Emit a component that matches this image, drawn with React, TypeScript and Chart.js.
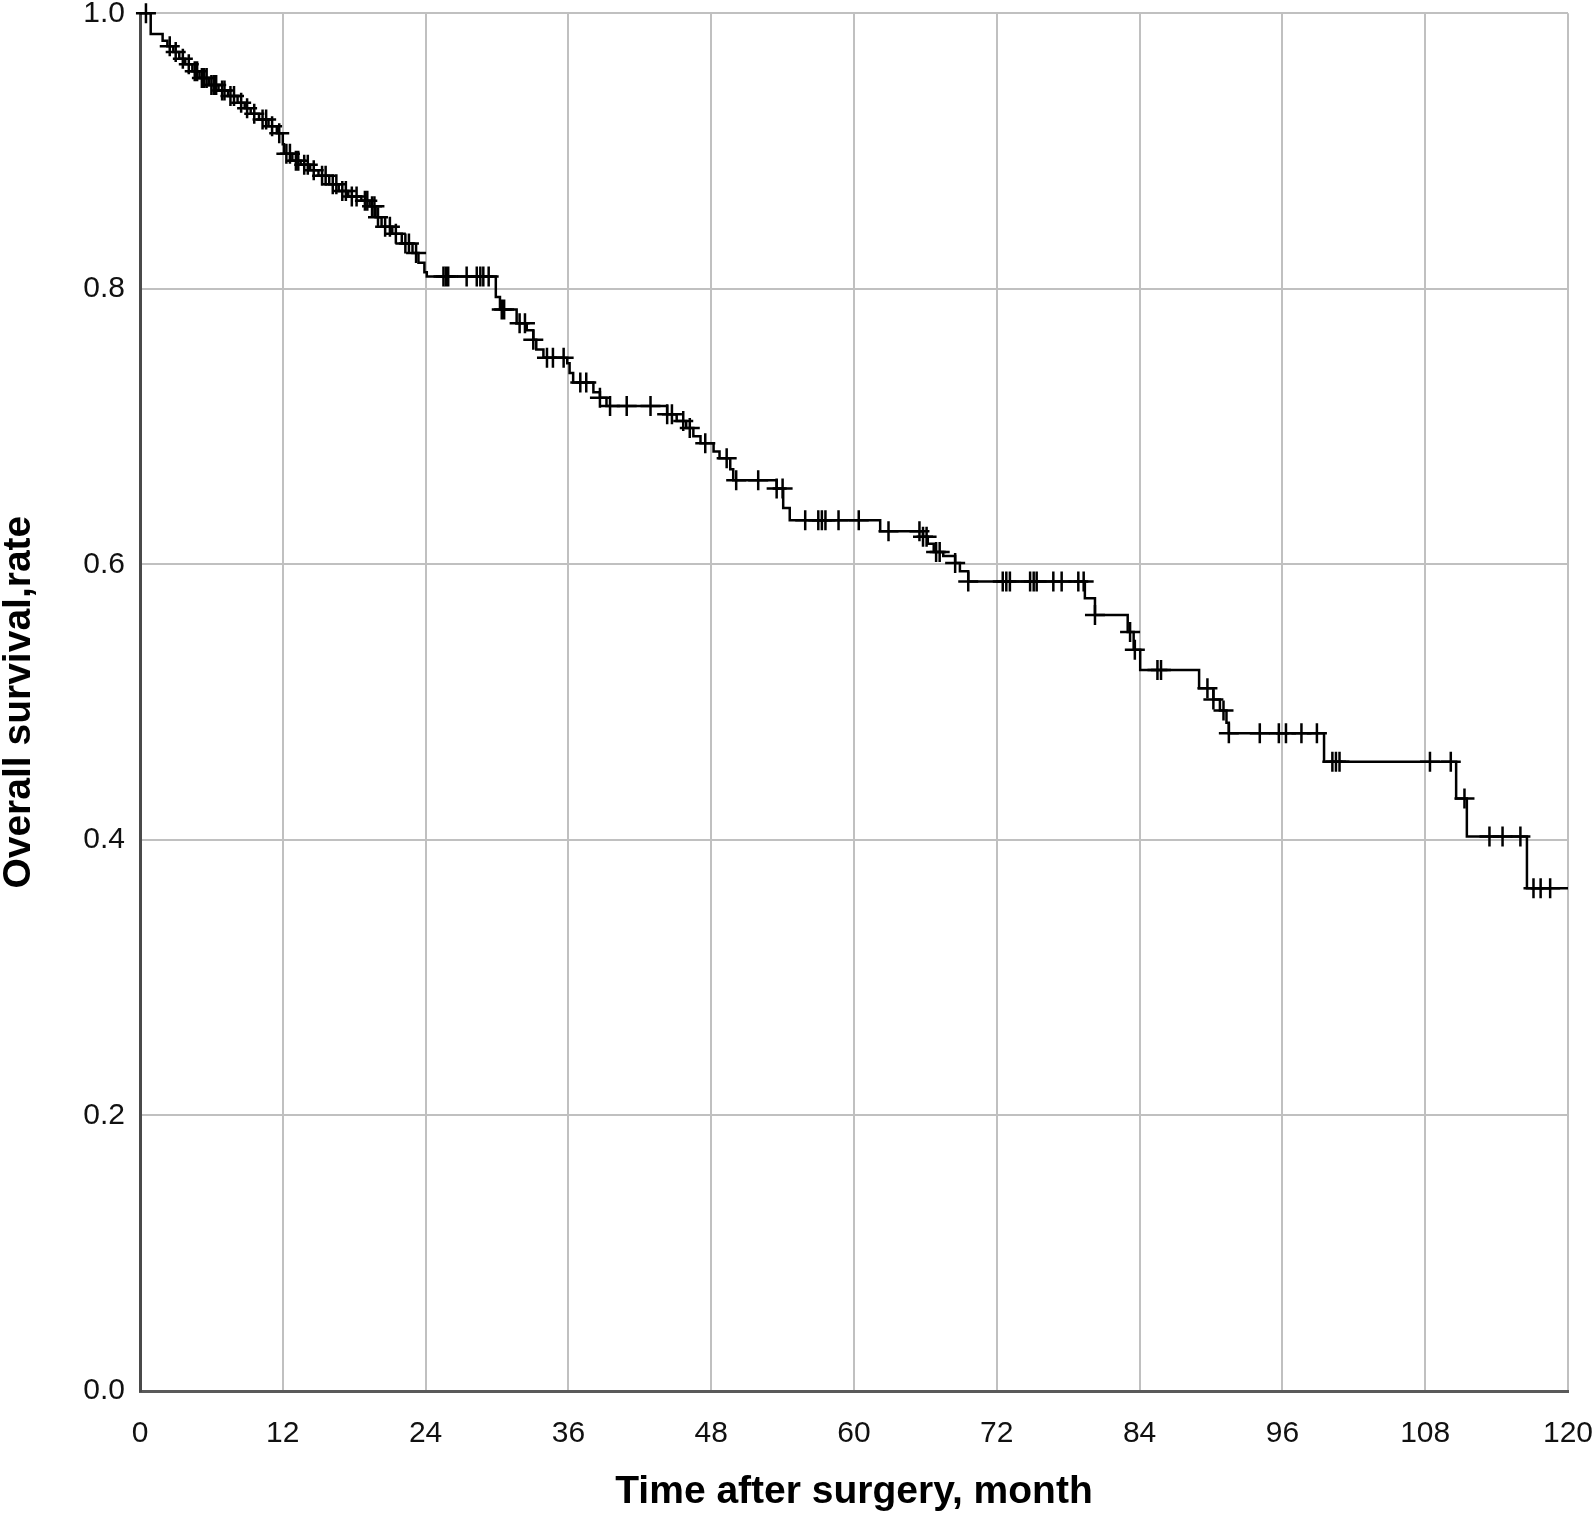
import React, { useEffect, useRef } from "react";
import { Chart, registerables } from "chart.js";

Chart.register(...registerables);

// Kaplan-Meier step function: event times (months) and survival after each step
const stepTimes = [
  0, 0.9, 1.9, 2.3, 2.8, 3.3, 3.8, 4.4, 5.0, 5.8, 6.6, 7.4, 8.2, 8.8, 9.3, 10.0, 10.8, 11.5,
  12.0, 12.1, 12.8, 13.5, 14.3, 15.0, 15.9, 16.7, 17.5, 18.6, 19.3, 19.8, 20.3, 21.2, 22.0,
  22.9, 23.4, 23.9, 24.1, 29.9, 30.25, 31.65, 32.5, 33.05, 33.3, 33.9, 35.9, 36.1, 36.4, 38.1,
  38.65, 39.2, 44.3, 45.1, 45.9, 46.5, 47.1, 48.2, 48.7, 49.6, 49.85, 53.5, 54.05, 54.6, 62.2,
  65.8, 66.2, 66.7, 67.5, 68.5, 68.9, 69.6, 79.4, 80.25, 83.0, 83.5, 84.05, 89.0, 90.2, 90.75,
  91.3, 91.5, 99.5, 110.6, 111.5, 116.55, 120,
];
const stepSurvival = [
  1.0, 0.985, 0.98, 0.976, 0.972, 0.967, 0.963, 0.958, 0.953, 0.948, 0.944, 0.94, 0.935, 0.931,
  0.927, 0.923, 0.918, 0.913, 0.905, 0.898, 0.893, 0.89, 0.886, 0.882, 0.876, 0.871, 0.867,
  0.864, 0.86, 0.852, 0.845, 0.84, 0.833, 0.826, 0.819, 0.812, 0.809, 0.794, 0.785, 0.775,
  0.77, 0.763, 0.756, 0.75, 0.746, 0.739, 0.732, 0.725, 0.721, 0.715, 0.709, 0.704, 0.699,
  0.693, 0.688, 0.682, 0.677, 0.669, 0.661, 0.655, 0.641, 0.632, 0.624, 0.62, 0.615, 0.609,
  0.606, 0.601, 0.595, 0.5875, 0.5754, 0.5633, 0.551, 0.538, 0.5234, 0.51, 0.502, 0.494,
  0.485, 0.4774, 0.4568, 0.43, 0.4024, 0.365, 0.365,
];

// Censored observation times (months)
const censorTimes = [
  0.5, 2.5, 3.0, 3.6, 4.1, 4.6, 4.8, 5.2, 5.4, 5.6, 6.0, 6.2, 6.4, 6.9, 7.1, 7.6, 7.9, 8.5, 9.0,
  9.6, 10.3, 10.6, 11.1, 11.7, 12.3, 12.6, 13.1, 13.3, 13.8, 14.1, 14.6, 15.3, 15.6, 16.2, 16.5,
  17.0, 17.3, 17.8, 18.2, 18.9, 19.1, 19.5, 19.7, 20.0, 20.6, 21.0, 21.5, 22.3, 22.6, 23.2,
  25.5, 25.7, 25.9, 27.45, 28.3, 28.6, 28.85, 29.3, 30.4, 30.6, 31.9, 32.35, 33.05, 34.2, 34.7,
  35.6, 37.0, 37.5, 38.65, 39.5, 40.9, 42.9, 44.3, 44.7, 45.65, 46.2, 47.5, 49.3, 50.1, 51.95,
  53.5, 54.0, 55.9, 57.0, 57.3, 57.6, 58.7, 60.4, 62.9, 65.5, 65.8, 66.1, 66.9, 67.2, 68.5,
  69.6, 72.5, 72.8, 73.1, 74.8, 75.1, 75.35, 76.75, 77.45, 78.85, 79.3, 80.25, 83.2, 83.6,
  85.5, 85.8, 89.7, 90.2, 91.05, 91.5, 94.1, 95.7, 96.3, 97.6, 98.9, 100.2, 100.5, 100.8,
  108.4, 110.15, 111.3, 113.4, 114.5, 116.0, 117.1, 117.7, 118.5,
];

const xTickStep = 12;
const xMax = 120;
const yTickStep = 0.2;

const xTitle = "Time after surgery, month";
const yTitle = "Overall survival,rate";

function survivalAt(t: number): number {
  let v = stepSurvival[0];
  for (let i = 0; i < stepTimes.length; i++) {
    if (stepTimes[i] <= t + 1e-9) v = stepSurvival[i];
    else break;
  }
  return v;
}

const FONT = "'Liberation Sans', Arial, sans-serif";

export default function App() {
  const ref = useRef<HTMLCanvasElement>(null);

  useEffect(() => {
    if (!ref.current) return;
    const curve = stepTimes.map((t, i) => ({ x: t, y: stepSurvival[i] }));
    const censors = censorTimes.map((t) => ({ x: t, y: survivalAt(t) }));

    const chart = new Chart(ref.current, {
      type: "scatter",
      data: {
        datasets: [
          {
            data: curve,
            showLine: true,
            stepped: "before",
            borderColor: "#000",
            borderWidth: 2.5,
            pointRadius: 0,
            fill: false,
            clip: false,
          } as any,
          {
            data: censors,
            showLine: false,
            pointStyle: "cross",
            pointRadius: 10,
            pointBorderWidth: 2.5,
            pointBorderColor: "#000",
            pointBackgroundColor: "#000",
            clip: false,
          } as any,
        ],
      },
      options: {
        responsive: false,
        animation: false,
        events: [],
        layout: { padding: 0 },
        plugins: {
          legend: { display: false },
          tooltip: { enabled: false },
        },
        scales: {
          x: {
            type: "linear",
            min: 0,
            max: xMax,
            afterFit: (scale: any) => {
              scale.height = 125;
              scale.paddingLeft = 0;
              scale.paddingRight = 26;
            },
            ticks: {
              stepSize: xTickStep,
              autoSkip: false,
              maxRotation: 0,
              padding: 25,
              color: "#111",
              font: { family: FONT, size: 30, lineHeight: 1.2 },
            },
            grid: {
              color: "rgb(192,192,192)",
              lineWidth: 2,
              drawTicks: false,
            },
            border: { color: "#5a5a5a", width: 3 },
            title: {
              display: true,
              text: xTitle,
              color: "#000",
              font: { family: FONT, size: 39, weight: "bold", lineHeight: 1.0 },
              padding: { top: 0, bottom: 4 },
            },
          },
          y: {
            type: "linear",
            min: 0,
            max: 1,
            afterFit: (scale: any) => {
              scale.width = 140;
              scale.paddingTop = 13.3;
              scale.paddingBottom = 0;
            },
            ticks: {
              stepSize: yTickStep,
              padding: 15,
              color: "#111",
              font: { family: FONT, size: 30, lineHeight: 1.2 },
              callback: (v: any) => Number(v).toFixed(1),
            },
            grid: {
              color: "rgb(192,192,192)",
              lineWidth: 2,
              drawTicks: false,
            },
            border: { color: "#4a4a4a", width: 3 },
            title: {
              display: true,
              text: yTitle,
              color: "#000",
              font: { family: FONT, size: 39, weight: "bold", lineHeight: 1.0 },
              padding: { top: 0, bottom: 0 },
            },
          },
        },
      } as any,
    });
    return () => chart.destroy();
  }, []);

  return (
    <div
      style={{
        position: "absolute",
        left: 0,
        top: 0,
        width: 1594,
        height: 1516,
        background: "#fff",
      }}
    >
      <canvas ref={ref} width={1594} height={1516} style={{ display: "block" }} />
    </div>
  );
}
